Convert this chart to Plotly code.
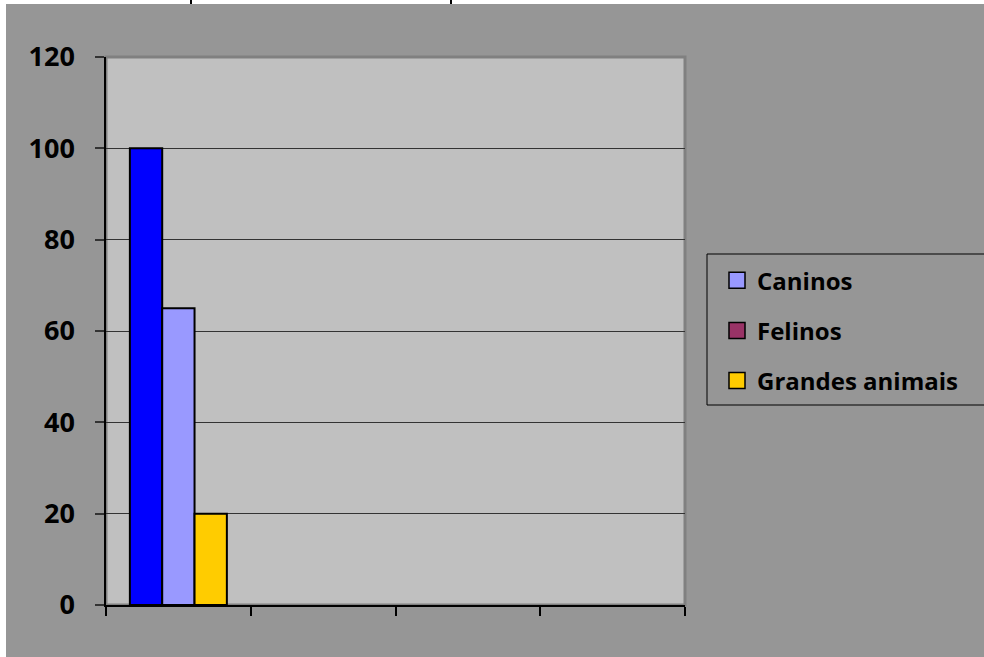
import plotly.graph_objects as go

categories = ["1", "2", "3", "4"]
bar_values_blue = [100, None, None, None]
bar_values_lavender = [65, None, None, None]
bar_values_yellow = [20, None, None, None]
legend_names = ["Caninos", "Felinos", "Grandes animais"]
legend_colors = ["#9999FF", "#993366", "#FFCC00"]
y_ticks = [0, 20, 40, 60, 80, 100, 120]

FONT = "Open Sans"
fig = go.Figure()
for vals, col in [(bar_values_blue, "#0000FF"), (bar_values_lavender, "#9999FF"), (bar_values_yellow, "#FFCC00")]:
    fig.add_trace(go.Bar(x=categories, y=vals, marker=dict(color=col, line=dict(color="black", width=2)),
                         showlegend=False, hoverinfo="skip"))

for name, col in zip(legend_names, legend_colors):
    fig.add_trace(go.Scatter(x=[None], y=[None], mode="markers", name=name, legendgroup=name,
                             marker=dict(symbol="square", size=16, color=col, line=dict(color="black", width=1.5))))

fig.update_layout(
    width=984, height=657,
    margin=dict(l=106, r=299, t=57, b=52),
    paper_bgcolor="#969696", plot_bgcolor="#C0C0C0",
    barmode="group", bargap=0.33, bargroupgap=0,
    font=dict(family=FONT, color="black"),
    legend=dict(x=1.038, xanchor="left", y=0.633, yanchor="top",
                bgcolor="rgba(0,0,0,0)", borderwidth=0,
                font=dict(family=FONT, size=24, color="black", weight="bold"),
                tracegroupgap=16, itemsizing="trace", indentation=10),
    showlegend=True,
)
fig.update_xaxes(type="category", categoryarray=categories, tickson="boundaries", ticks="outside",
                 ticklen=9, tickcolor="black", tickwidth=1.5, showticklabels=False, showgrid=False,
                 showline=True, linecolor="black", linewidth=1.5, range=[-0.5, 3.5], fixedrange=True)
fig.update_yaxes(range=[0, 120], tickvals=y_ticks, ticks="outside", ticklen=9, tickcolor="#333333",
                 tickwidth=1.5, showgrid=True, gridcolor="#333333", gridwidth=1,
                 showline=True, linecolor="black", linewidth=1.5, zeroline=False,
                 tickfont=dict(family=FONT, size=27, color="black", weight="bold"),
                 ticklabelstandoff=15)

# plot area border (top/right darker gray)
fig.add_shape(type="rect", xref="paper", yref="paper", x0=0, x1=1, y0=0, y1=1,
              line=dict(color="#808080", width=3), layer="below")
# legend frame (extends past the right edge, as in the source)
fig.add_shape(type="rect", xref="paper", yref="paper", xsizemode="pixel", xanchor=1,
              ysizemode="pixel", yanchor=0, x0=22, x1=330, y0=200, y1=351,
              line=dict(color="black", width=1), fillcolor="rgba(0,0,0,0)")
# white strips from the cropped source image
fig.add_shape(type="rect", xref="paper", yref="paper", xsizemode="pixel", xanchor=0,
              x0=-107, x1=-100, y0=-0.2, y1=1.2, fillcolor="white", line_width=0)
fig.add_shape(type="rect", xref="paper", yref="paper", ysizemode="pixel", yanchor=1,
              y0=53, y1=60, x0=-0.3, x1=1.6, fillcolor="white", line_width=0)
for px in (191, 451):
    fig.add_shape(type="line", xref="paper", yref="paper", xsizemode="pixel", xanchor=0,
                  ysizemode="pixel", yanchor=1, x0=px - 106, x1=px - 106, y0=53, y1=58,
                  line=dict(color="black", width=2))

fig.write_html("out.html", config={"displayModeBar": False},
               post_script="document.body.style.margin='0';")
